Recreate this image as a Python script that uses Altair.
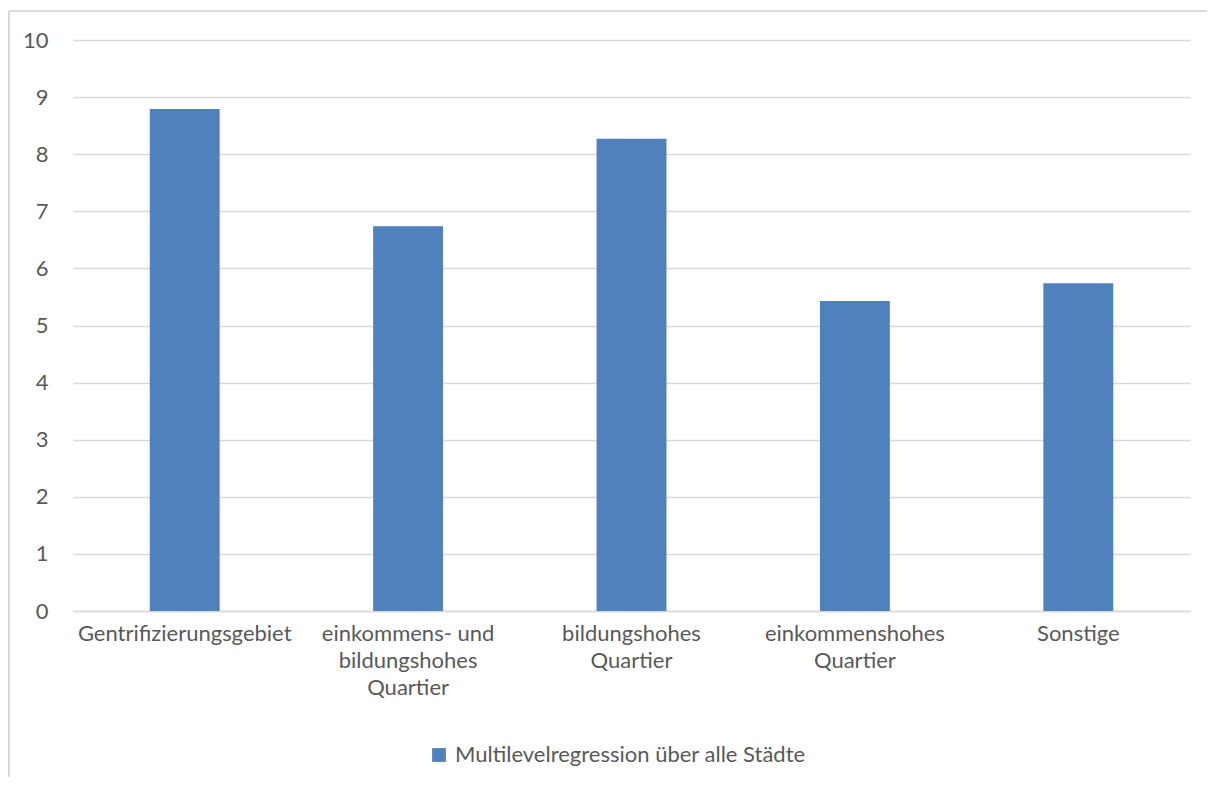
import altair as alt
import pandas as pd

categories = [
    "Gentrifizierungsgebiet",
    "einkommens- und\nbildungshohes\nQuartier",
    "bildungshohes\nQuartier",
    "einkommenshohes\nQuartier",
    "Sonstige",
]
values = [8.79, 6.74, 8.27, 5.43, 5.74]
series_name = "Multilevelregression über alle Städte"
y_ticks = list(range(0, 11))

df = pd.DataFrame({"cat": categories, "val": values, "series": [series_name] * len(values)})

FONT = "Lato"
GRAY = "#595959"
FS = 22

bars = alt.Chart(df).mark_bar(color="#4f81bd").encode(
    x=alt.X(
        "cat:N",
        sort=categories,
        title=None,
        scale=alt.Scale(paddingInner=0.687, paddingOuter=0.3435),
        axis=alt.Axis(
            labelAngle=0,
            labelExpr="split(datum.label, '\\n')",
            labelFont=FONT,
            labelFontSize=FS,
            labelColor=GRAY,
            labelLineHeight=27,
            labelPadding=22,
            labelBaseline="middle",
            ticks=False,
            domain=True,
            domainColor="#d9d9d9",
            domainWidth=1.5,
            grid=False,
            labelLimit=400,
        ),
    ),
    y=alt.Y(
        "val:Q",
        title=None,
        scale=alt.Scale(domain=[0, 10], nice=False),
        axis=alt.Axis(
            values=y_ticks,
            labelFont=FONT,
            labelFontSize=FS,
            labelColor=GRAY,
            labelPadding=25,
            ticks=False,
            domain=False,
            grid=True,
            gridColor="#d9d9d9",
            gridWidth=1.5,
        ),
    ),
    color=alt.Color(
        "series:N",
        scale=alt.Scale(range=["#4f81bd"]),
        legend=alt.Legend(
            title=None,
            orient="none",
            legendX=355,
            legendY=704,
            symbolType="square",
            symbolSize=190,
            symbolStrokeWidth=0,
            labelFont=FONT,
            labelFontSize=FS,
            labelColor=GRAY,
            labelOffset=5,
            labelLimit=600,
        ),
    ),
)

frame_left = alt.Chart(df).mark_rule(color="#d9d9d9", strokeWidth=2).encode(
    x=alt.value(-64), y=alt.value(-29), y2=alt.value(790)
)
frame_top = alt.Chart(df).mark_rule(color="#d9d9d9", strokeWidth=2).encode(
    x=alt.value(-64), x2=alt.value(1140), y=alt.value(-29)
)

chart = (
    alt.layer(frame_left, frame_top, bars)
    .properties(
        width=1117,
        height=571,
        autosize=alt.AutoSizeParams(type="none"),
        padding={"left": 65, "top": 32, "right": 17, "bottom": 166},
        background="white",
    )
    .configure_view(stroke=None)
)

chart.save("out.html", embed_options={"renderer": "svg", "actions": False})
